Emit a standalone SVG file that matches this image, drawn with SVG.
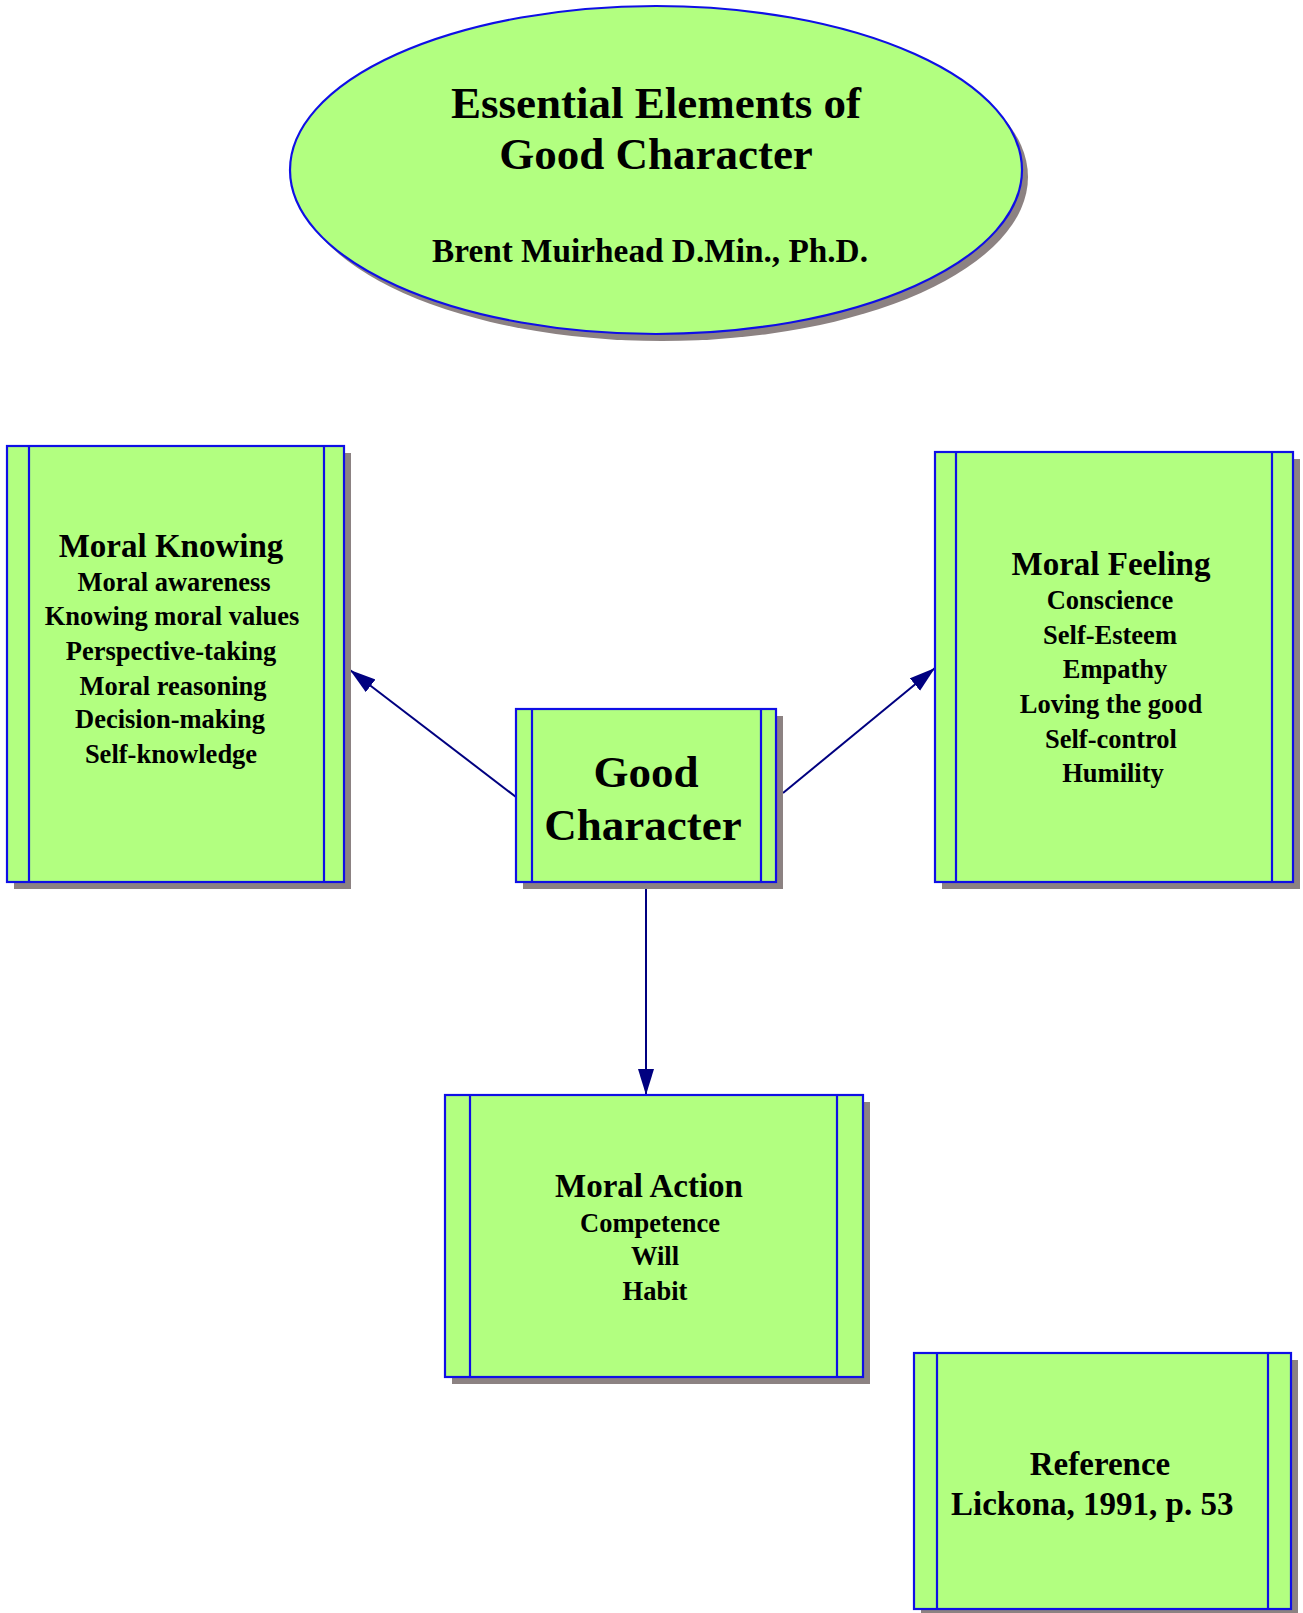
<svg xmlns="http://www.w3.org/2000/svg" width="1303" height="1613" viewBox="0 0 1303 1613">
<style>
.fill{fill:#b2ff80;stroke:#0f0fe6;stroke-width:2.2}
.sh{fill:#8c8282}
.div{stroke:#0f0fe6;stroke-width:2.2;fill:none}
text{font-family:"Liberation Serif","Times New Roman",serif;font-weight:bold;fill:#000;text-anchor:middle}
.t1{font-size:45px}
.t2{font-size:33px}
.t3{font-size:26.5px}
.big{font-size:45px}
.con{stroke:#000080;stroke-width:2;fill:none;marker-end:url(#arr)}
</style>
<defs>
<marker id="arr" markerUnits="userSpaceOnUse" markerWidth="28" markerHeight="18" refX="26" refY="8" orient="auto">
<path d="M0,0 L26,8 L0,16 z" fill="#000080"/>
</marker>
</defs>
<rect width="1303" height="1613" fill="#fff"/>
<g id="title">
<ellipse class="sh" cx="662" cy="177" rx="366" ry="164"/>
<ellipse class="fill" cx="656" cy="170" rx="366" ry="164"/>
<text class="t1" x="656" y="118">Essential Elements of</text>
<text class="t1" x="656" y="169">Good Character</text>
<text class="t2" x="650" y="262" style="font-size:33.3px">Brent Muirhead D.Min., Ph.D.</text>
</g>
<g id="connectors">
<line class="con" x1="516" y1="797" x2="350" y2="670"/>
<line class="con" x1="783" y1="793" x2="935" y2="668"/>
<line class="con" x1="646" y1="889" x2="646" y2="1095"/>
</g>
<g id="moral-knowing">
<rect class="sh" x="14" y="453" width="337" height="436"/>
<rect class="fill" x="7" y="446" width="337" height="436"/>
<path class="div" d="M29,446 V882 M324,446 V882"/>
<text class="t2" x="171" y="557">Moral Knowing</text>
<text class="t3" x="174" y="591">Moral awareness</text>
<text class="t3" x="172" y="625">Knowing moral values</text>
<text class="t3" x="171" y="660">Perspective-taking</text>
<text class="t3" x="173" y="695">Moral reasoning</text>
<text class="t3" x="170" y="728">Decision-making</text>
<text class="t3" x="171" y="763">Self-knowledge</text>
</g>
<g id="good-character">
<rect class="sh" x="523" y="716" width="260" height="173"/>
<rect class="fill" x="516" y="709" width="260" height="173"/>
<path class="div" d="M532,709 V882 M761,709 V882"/>
<text class="big" x="646" y="787">Good</text>
<text class="big" x="643" y="840">Character</text>
</g>
<g id="moral-feeling">
<rect class="sh" x="942" y="459" width="358" height="430"/>
<rect class="fill" x="935" y="452" width="358" height="430"/>
<path class="div" d="M956,452 V882 M1272,452 V882"/>
<text class="t2" x="1111" y="575">Moral Feeling</text>
<text class="t3" x="1110" y="609">Conscience</text>
<text class="t3" x="1110" y="644">Self-Esteem</text>
<text class="t3" x="1115" y="678">Empathy</text>
<text class="t3" x="1111" y="713">Loving the good</text>
<text class="t3" x="1111" y="748">Self-control</text>
<text class="t3" x="1113" y="782">Humility</text>
</g>
<g id="moral-action">
<rect class="sh" x="452" y="1102" width="418" height="282"/>
<rect class="fill" x="445" y="1095" width="418" height="282"/>
<path class="div" d="M470,1095 V1377 M837,1095 V1377"/>
<text class="t2" x="649" y="1197">Moral Action</text>
<text class="t3" x="650" y="1232">Competence</text>
<text class="t3" x="655" y="1265">Will</text>
<text class="t3" x="655" y="1300">Habit</text>
</g>
<g id="reference">
<rect class="sh" x="921" y="1360" width="377" height="256"/>
<rect class="fill" x="914" y="1353" width="377" height="256"/>
<path class="div" d="M937,1353 V1609 M1268,1353 V1609"/>
<text class="t2" x="1100" y="1475">Reference</text>
<text class="t2" x="951" y="1515" style="text-anchor:start">Lickona, 1991, p. 53</text>
</g>
</svg>
